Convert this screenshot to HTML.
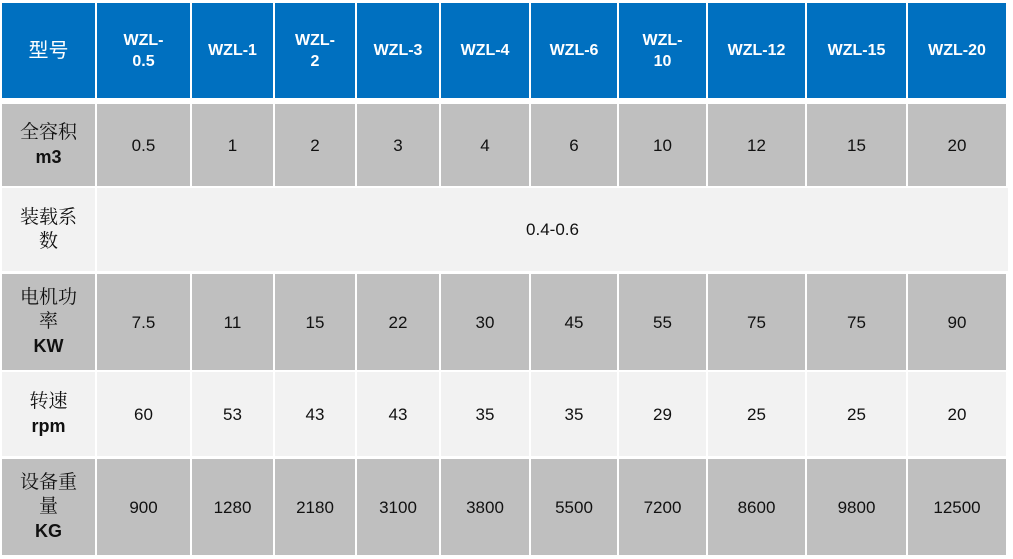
<!DOCTYPE html><html><head><meta charset="utf-8"><style>
body{margin:0;width:1013px;height:559px;background:#fff;position:relative;overflow:hidden;font-family:"Liberation Sans","Noto Sans CJK SC",sans-serif}
.c{position:absolute;display:flex;align-items:center;justify-content:center;text-align:center;font-size:17px;color:#111;line-height:21px}
.h{background:#0070c0;color:#fff;font-weight:bold;font-size:16px}
.g{background:#bfbfbf}.l{background:#f2f2f2}
.f{font-family:"Liberation Serif","Noto Serif CJK SC",serif;font-size:19px;line-height:24px}
.f b{font-family:"Liberation Sans",sans-serif;font-size:18px}
</style></head><body><div id="t"></div>
<script>
var X=[2,97,192,275,357,441,531,619,708,807,908,1008];
var Y=[[3,98],[104,186],[188,271],[274,370],[372,456],[459,555]];
var rows=[
['h','<span style="font-family:Noto Sans CJK SC;font-weight:normal;font-size:20px">型号</span>','WZL-<br>0.5','WZL-1','WZL-<br>2','WZL-3','WZL-4','WZL-6','WZL-<br>10','WZL-12','WZL-15','WZL-20'],
['g','全容积<br><b>m3</b>','0.5','1','2','3','4','6','10','12','15','20'],
['l','装载系<br>数','0.4-0.6'],
['g','电机功<br>率<br><b>KW</b>','7.5','11','15','22','30','45','55','75','75','90'],
['l','转速<br><b>rpm</b>','60','53','43','43','35','35','29','25','25','20'],
['g','设备重<br>量<br><b>KG</b>','900','1280','2180','3100','3800','5500','7200','8600','9800','12500']];
var s='';
rows.forEach(function(r,i){var y=Y[i];for(var j=1;j<r.length;j++){var x0=X[j-1],x1=(r.length==3&&j==2)?X[11]:X[j]-2;
var cls='c '+r[0]+(j==1&&i>0?' f':'');
s+='<div class="'+cls+'" style="left:'+x0+'px;top:'+y[0]+'px;width:'+(x1-x0)+'px;height:'+(y[1]-y[0])+'px"><div>'+r[j]+'</div></div>';}});
document.getElementById('t').outerHTML=s;
</script></body></html>
